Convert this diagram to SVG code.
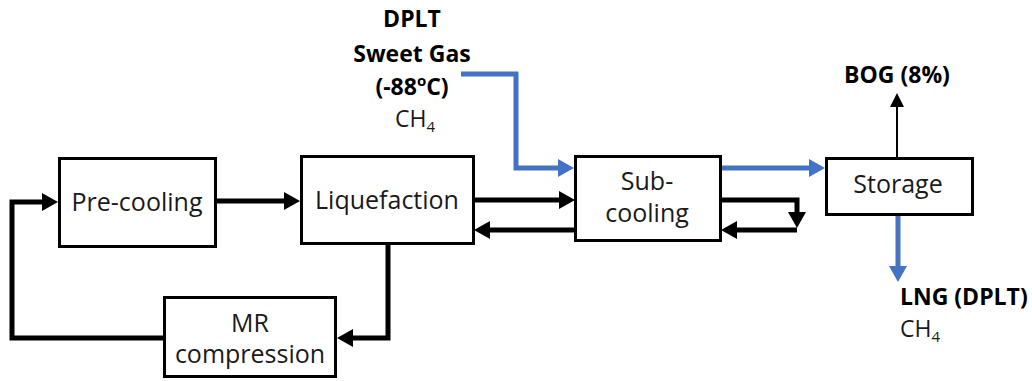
<svg xmlns="http://www.w3.org/2000/svg" width="1032" height="381" viewBox="0 0 1032 381">
<style>
.box{fill:#fff;stroke:#000;stroke-width:3}
.lbl{font-family:"Open Sans","Liberation Sans",sans-serif;font-size:25px;fill:#1a1a1a;text-anchor:middle}
.bold{font-family:"Open Sans","Liberation Sans",sans-serif;font-size:23px;font-weight:bold;fill:#000}
.reg{font-family:"Open Sans","Liberation Sans",sans-serif;font-size:23px;fill:#1a1a1a}
.blk{fill:none;stroke:#000;stroke-width:5;marker-end:url(#ab)}
.blu{fill:none;stroke:#4472C4;stroke-width:5;marker-end:url(#au)}
.thin{fill:none;stroke:#000;stroke-width:2;marker-end:url(#at)}
</style>
<defs>
<marker id="ab" markerUnits="userSpaceOnUse" markerWidth="16" markerHeight="18" refX="0" refY="9" orient="auto" overflow="visible"><path d="M0,0 L16,9 L0,18 z" fill="#000"/></marker>
<marker id="au" markerUnits="userSpaceOnUse" markerWidth="16" markerHeight="18" refX="0" refY="9" orient="auto" overflow="visible"><path d="M0,0 L16,9 L0,18 z" fill="#4472C4"/></marker>
<marker id="at" markerUnits="userSpaceOnUse" markerWidth="14" markerHeight="14" refX="0" refY="7" orient="auto" overflow="visible"><path d="M0,0 L14,7 L0,14 z" fill="#000"/></marker>
</defs>
<g id="connectors">
<path class="blk" d="M217,201 H284"/>
<path class="blk" d="M163,338 H12 V202 H42"/>
<path class="blk" d="M388,244 V338 H353"/>
<path class="blk" d="M474,200 H559"/>
<path class="blk" d="M575,230 H490"/>
<path class="blk" d="M721,200 H797 V212"/>
<path class="blk" d="M797,230 H737"/>
<path class="blu" d="M461,74 H516 V168 H558"/>
<path class="blu" d="M721,168 H809"/>
<path class="thin" d="M897,157 V107"/>
<path class="blu" d="M898,215 V266"/>
</g>
<g id="precooling">
<rect class="box" x="59.5" y="158.5" width="156" height="88"/>
<text class="lbl" x="137" y="211">Pre-cooling</text>
</g>
<g id="liquefaction">
<rect class="box" x="301.5" y="156.5" width="172" height="87"/>
<text class="lbl" x="387" y="209">Liquefaction</text>
</g>
<g id="mrcompression">
<rect class="box" x="164.5" y="297.5" width="171" height="79"/>
<text class="lbl" x="250" y="332">MR</text>
<text class="lbl" x="250" y="363">compression</text>
</g>
<g id="subcooling">
<rect class="box" x="575.5" y="156.5" width="145" height="84"/>
<text class="lbl" x="647" y="190">Sub-</text>
<text class="lbl" x="647" y="222">cooling</text>
</g>
<g id="storage">
<rect class="box" x="826.5" y="158.5" width="146" height="56"/>
<text class="lbl" x="898" y="193">Storage</text>
</g>
<g id="feed">
<text class="bold" x="412" y="27" text-anchor="middle">DPLT</text>
<text class="bold" x="412" y="62" text-anchor="middle">Sweet Gas</text>
<text class="bold" x="412" y="95" text-anchor="middle">(-88<tspan font-size="15" dy="-9">o</tspan><tspan dy="9">C)</tspan></text>
<text class="reg" x="415" y="127" text-anchor="middle">CH<tspan font-size="15" dy="5">4</tspan></text>
</g>
<g id="bog">
<text class="bold" x="897" y="83" text-anchor="middle">BOG (8%)</text>
</g>
<g id="lng">
<text class="bold" x="900" y="305">LNG (DPLT)</text>
<text class="reg" x="900" y="337">CH<tspan font-size="15" dy="5">4</tspan></text>
</g>
</svg>
